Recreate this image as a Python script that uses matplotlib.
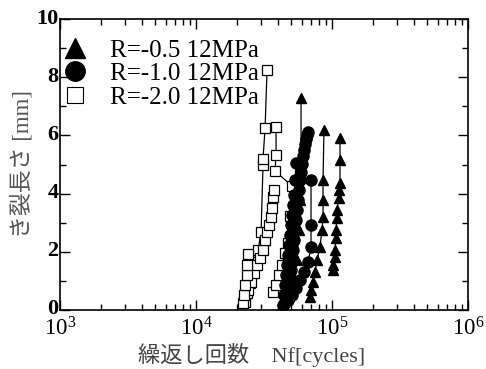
import matplotlib
matplotlib.use("Agg")
import matplotlib.pyplot as plt
from matplotlib.lines import Line2D
from matplotlib.ticker import LogLocator, MultipleLocator, FixedLocator
from matplotlib.transforms import ScaledTranslation

# ---- data (cycles, crack length mm) ----
# R=-0.5 12MPa (triangles)
t1_n = [50000, 53500, 55300, 57200, 58200, 59200, 59200]
t1_a = [0.55, 1.03, 1.72, 2.75, 3.78, 5.15, 7.29]
t2_n = [68900, 70100, 72500, 75000, 77600, 81600, 84400, 85900, 85900, 85900, 87300]
t2_a = [0.45, 0.69, 0.96, 1.31, 1.72, 2.16, 2.75, 3.20, 3.78, 4.47, 6.19]
t3_n = [101600, 101600, 105100, 105100, 107000, 107000, 108800, 108800, 112500, 112500, 114500, 114500, 114500]
t3_a = [1.37, 1.55, 1.82, 2.06, 2.47, 2.75, 3.16, 3.44, 3.85, 4.12, 4.36, 5.15, 5.91]

# R=-1.0 12MPa (circles)
c1_n = [47400, 48300, 49100, 50000, 50800, 51700, 52600, 53500, 54400, 55300, 56200,
        57200, 58200, 59200, 60200, 61200, 62300, 63300, 64400, 65500, 66600]
c1_a = [0.34, 0.69, 1.03, 1.37, 1.72, 2.06, 2.41, 2.75, 3.09, 3.44, 3.78,
        4.12, 4.47, 4.74, 5.02, 5.29, 5.50, 5.70, 5.88, 6.01, 6.12]
c2_n = [43600, 44400, 45100, 45900, 46700, 47400, 48300, 49100, 50000, 50800, 51700, 52600, 53500, 54400]
c2_a = [0.17, 0.52, 0.86, 1.20, 1.55, 1.89, 2.23, 2.58, 2.92, 3.26, 3.61, 3.95, 4.47, 5.05]
c3_n = [44400, 47400, 50800, 54400, 58200, 62300, 66600, 70100, 70100, 70100]
c3_a = [0.21, 0.34, 0.52, 0.76, 1.03, 1.31, 1.65, 2.16, 2.92, 4.47]

# R=-2.0 12MPa (squares)
s1_n = [22900, 23700, 24900, 26200, 27600, 28600, 30100, 31100, 31100, 32200, 33300]
s1_a = [0.27, 0.58, 0.93, 1.27, 1.65, 2.06, 2.68, 4.98, 5.19, 6.25, 8.25]
s2_n = [36800, 38800, 40800, 42900, 45100, 47400, 49100, 50800, 38100, 38800, 38800]
s2_a = [0.62, 0.86, 1.20, 1.55, 1.96, 2.30, 3.23, 4.26, 4.78, 5.33, 6.29]
s3_n = [24100, 25300, 26700, 28100, 29600, 31100, 32200, 33300, 34400, 35600, 36200, 36800, 37500]
s3_a = [0.69, 0.96, 1.27, 1.55, 1.79, 2.06, 2.41, 2.68, 2.92, 3.20, 3.51, 3.88, 4.12]
s4_n = [22200, 22500, 22900, 23700, 23700, 24100]
s4_a = [0.24, 0.52, 0.86, 1.20, 1.55, 1.92]

legend_labels = ["R=-0.5 12MPa", "R=-1.0 12MPa", "R=-2.0 12MPa"]
y_ticks = [0, 2, 4, 6, 8, 10]

serif = ["Liberation Serif", "Noto Sans CJK JP", "DejaVu Sans"]
plt.rcParams['font.family'] = serif

fig = plt.figure(figsize=(4.86, 3.69), dpi=100)
ax = fig.add_axes([60/486, (369-310)/369, 408/486, 291/369])

line_kw = dict(color="black", lw=0.9)
for n, a in [(s1_n, s1_a), (s2_n, s2_a), (s3_n, s3_a), (s4_n, s4_a)]:
    ax.plot(n, a, marker="s", ms=6.5, mfc="white", mec="black", mew=0.9, **line_kw)
for n, a in [(c1_n, c1_a), (c2_n, c2_a), (c3_n, c3_a)]:
    ax.plot(n, a, marker="o", ms=8, mfc="black", mec="black", **line_kw)
for n, a in [(t1_n, t1_a), (t2_n, t2_a), (t3_n, t3_a)]:
    ax.plot(n, a, marker="^", ms=7.5, mfc="black", mec="black", **line_kw)

ax.set_xscale("log")
ax.set_xlim(1e3, 1e6)
ax.set_ylim(0, 10)
ax.yaxis.set_major_locator(FixedLocator(y_ticks))
ax.yaxis.set_minor_locator(MultipleLocator(1))
ax.xaxis.set_major_locator(FixedLocator([1e3, 1e4, 1e5, 1e6]))
ax.xaxis.set_minor_locator(LogLocator(base=10, subs=range(2, 10), numticks=20))
ax.set_xticklabels([r"$\mathregular{10^{3}}$", r"$\mathregular{10^{4}}$",
                    r"$\mathregular{10^{5}}$", r"$\mathregular{10^{6}}$"])
ax.set_yticklabels([str(v) for v in y_ticks])

ax.tick_params(which="both", direction="in", top=True, right=True, width=1)
ax.tick_params(which="major", length=7)
ax.tick_params(which="minor", length=4)
ax.tick_params(axis="x", labelsize=16.5, pad=5)
ax.tick_params(axis="y", labelsize=16, pad=1)
shift = ScaledTranslation(0, 3/100, fig.dpi_scale_trans)
for lab in ax.get_yticklabels():
    lab.set_fontweight("bold")
    lab.set_transform(lab.get_transform() + shift)
for s in ax.spines.values():
    s.set_linewidth(1.2)

ax.set_xlabel("繰返し回数　Nf[cycles]", fontsize=16, color="#444444")
ax.xaxis.set_label_coords(0.47, -0.115)
ax.set_ylabel("き裂長さ [mm]", fontsize=16.5, color="#555555", labelpad=2)

handles = [
    Line2D([], [], ls="none", marker="^", ms=14, mfc="black", mec="black"),
    Line2D([], [], ls="none", marker="o", ms=14, mfc="black", mec="black"),
    Line2D([], [], ls="none", marker="s", ms=12, mfc="white", mec="black", mew=0.8),
]
ax.legend(handles, legend_labels, loc="upper left", frameon=False, fontsize=18,
          handletextpad=0.8, labelspacing=0.04, borderaxespad=0.0,
          bbox_to_anchor=(-0.025, 0.965), handlelength=1.2)

fig.savefig("out.png", dpi=100)
